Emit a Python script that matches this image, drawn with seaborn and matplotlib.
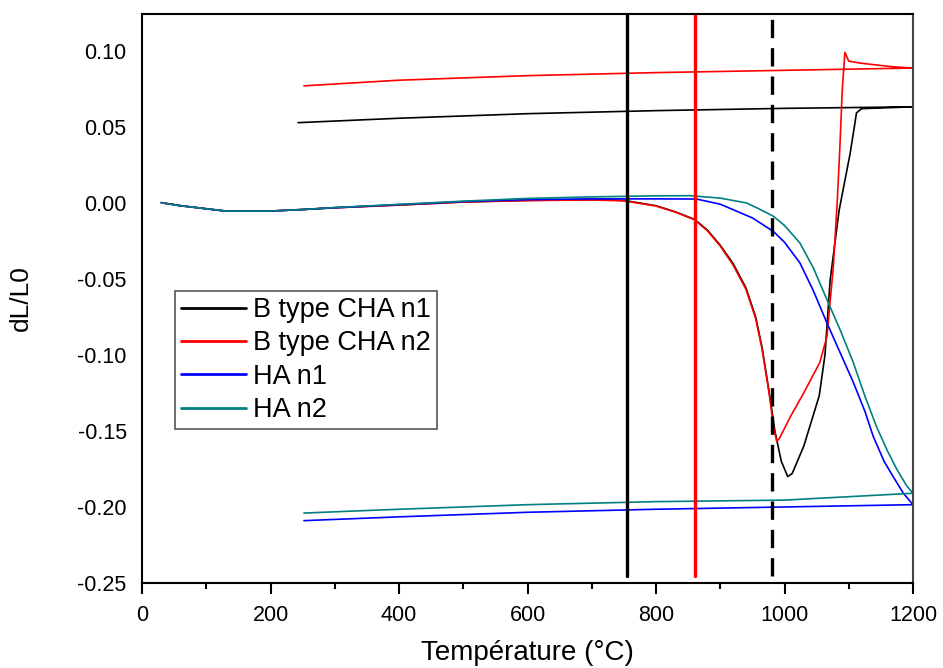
import numpy as np
import pandas as pd
import seaborn as sns
import matplotlib.pyplot as plt
from matplotlib.ticker import MultipleLocator, FormatStrFormatter

# dilatometry curves: heating 30 -> 1200 °C, then cooling 1200 -> ~250 °C
cha1_temp = [30, 60, 100, 130, 200, 250, 300, 400, 500, 600, 700, 750, 800, 830, 860, 880, 900,
             920, 940, 955, 965, 977, 985, 995, 1005, 1012, 1030, 1054, 1063, 1071, 1085, 1102,
             1108, 1112, 1120, 1200, 1100, 1000, 800, 600, 400, 243]
cha1_dl = [0.0, -0.002, -0.004, -0.0055, -0.0055, -0.0045, -0.0033, -0.0015, 0.0005, 0.0015,
           0.002, 0.0015, -0.002, -0.006, -0.011, -0.018, -0.028, -0.040, -0.056, -0.075, -0.095,
           -0.127, -0.150, -0.170, -0.180, -0.178, -0.160, -0.127, -0.100, -0.051, -0.005, 0.032,
           0.048, 0.059, 0.0618, 0.063, 0.0625, 0.062, 0.0605, 0.0585, 0.0555, 0.0526]

cha2_temp = [30, 60, 100, 130, 200, 250, 300, 400, 500, 600, 700, 750, 800, 830, 860, 880, 900,
             920, 940, 955, 965, 977, 983, 988, 992, 1010, 1030, 1055, 1066, 1076, 1082, 1086,
             1090, 1094, 1100, 1117, 1143, 1170, 1200, 1000, 800, 600, 400, 252]
cha2_dl = [0.0, -0.002, -0.004, -0.0055, -0.0055, -0.0045, -0.0034, -0.0016, 0.0004, 0.0014,
           0.0018, 0.0012, -0.0022, -0.0062, -0.0112, -0.0185, -0.0285, -0.041, -0.057, -0.076,
           -0.096, -0.128, -0.148, -0.157, -0.155, -0.140, -0.125, -0.105, -0.088, -0.042, 0.0,
           0.035, 0.075, 0.0988, 0.093, 0.0918, 0.0905, 0.0893, 0.0885, 0.087, 0.0855, 0.0835,
           0.0805, 0.0768]

ha1_temp = [30, 60, 100, 130, 200, 250, 300, 400, 500, 600, 700, 800, 863, 900, 920, 950, 983,
            1000, 1024, 1045, 1066, 1087, 1107, 1125, 1138, 1155, 1169, 1185, 1200, 1000, 800,
            600, 400, 252]
ha1_dl = [0.0, -0.002, -0.004, -0.0055, -0.0055, -0.0045, -0.0033, -0.0013, 0.0007, 0.002,
          0.0025, 0.0025, 0.0024, -0.001, -0.0046, -0.010, -0.019, -0.026, -0.0396, -0.058,
          -0.079, -0.099, -0.118, -0.137, -0.1535, -0.170, -0.180, -0.191, -0.1985, -0.200,
          -0.2015, -0.2035, -0.2065, -0.209]

ha2_temp = [30, 60, 100, 130, 200, 250, 300, 400, 500, 600, 700, 800, 853, 900, 941, 960, 983,
            1000, 1024, 1045, 1066, 1087, 1107, 1125, 1143, 1160, 1175, 1190, 1200, 1000, 800,
            600, 400, 252]
ha2_dl = [0.0, -0.002, -0.004, -0.0055, -0.0055, -0.0045, -0.0032, -0.0011, 0.001, 0.0028,
          0.0038, 0.0045, 0.0046, 0.003, -0.0002, -0.004, -0.009, -0.015, -0.0265, -0.043,
          -0.0637, -0.084, -0.105, -0.127, -0.147, -0.163, -0.1754, -0.186, -0.191, -0.1955,
          -0.1965, -0.1985, -0.2015, -0.204]

labels = ["B type CHA n1", "B type CHA n2", "HA n1", "HA n2"]
colors = ["#000000", "#ff0000", "#0000ff", "#008080"]

# onset temperatures marked by vertical lines
onset_temps = [755, 860, 980]

frames = []
for lab, t, d in zip(labels, [cha1_temp, cha2_temp, ha1_temp, ha2_temp],
                     [cha1_dl, cha2_dl, ha1_dl, ha2_dl]):
    frames.append(pd.DataFrame({"T": t, "dL": d, "sample": lab, "order": np.arange(len(t))}))
df = pd.concat(frames, ignore_index=True)

sns.set_style("ticks")
plt.rcParams["font.family"] = ["Liberation Sans", "DejaVu Sans"]
plt.rcParams["axes.unicode_minus"] = False
plt.rcParams["text.color"] = "black"
plt.rcParams["axes.labelcolor"] = "black"
plt.rcParams["xtick.color"] = "black"
plt.rcParams["ytick.color"] = "black"

fig = plt.figure(figsize=(9.43, 6.68), dpi=100)
ax = fig.add_axes([0.1506, 0.1272, 0.8176, 0.8518])

sns.lineplot(data=df, x="T", y="dL", hue="sample", palette=dict(zip(labels, colors)),
             sort=False, estimator=None, units="sample", linewidth=1.2, ax=ax)

ax.axvline(onset_temps[0], ymin=0.012, ymax=1, color="black", linewidth=2.4)
ax.axvline(onset_temps[1], ymin=0.012, ymax=1, color="#ff0000", linewidth=2.4)
ax.axvline(onset_temps[2], ymin=0.012, ymax=1, color="black", linewidth=2.4,
           linestyle=(0, (5.5, 3.0)))

ax.set_xlim(0, 1200)
ax.set_ylim(-0.25, 0.124)
ax.xaxis.set_major_locator(MultipleLocator(200))
ax.xaxis.set_minor_locator(MultipleLocator(100))
ax.yaxis.set_major_locator(MultipleLocator(0.05))
ax.yaxis.set_major_formatter(FormatStrFormatter("%.2f"))

for side in ["left", "bottom", "top", "right"]:
    ax.spines[side].set_linewidth(1.5)
    ax.spines[side].set_color("black")
ax.spines["right"].set_color("#444444")

ax.tick_params(axis="x", which="major", direction="out", length=8, width=1.5, labelsize=15.5,
               pad=8, colors="black")
ax.tick_params(axis="x", which="minor", direction="out", length=4.5, width=1.5)
ax.tick_params(axis="y", which="major", length=0, labelsize=15.5, pad=11, colors="black")

ax.set_xlabel("Température (°C)", fontsize=20, labelpad=10, color="black")
ax.set_ylabel("dL/L0", fontsize=19, labelpad=32, color="black")

leg = ax.legend(loc="upper left", bbox_to_anchor=(0.043, 0.513), borderaxespad=0,
                fontsize=19.5, handlelength=2.4, handletextpad=0.25, labelspacing=0.27,
                borderpad=0.22, fancybox=False, framealpha=1, edgecolor="#555555")
leg.get_frame().set_linewidth(1.2)
for line in leg.get_lines():
    line.set_linewidth(2)
for txt in leg.get_texts():
    txt.set_color("black")

fig.savefig("out.png", dpi=100)
